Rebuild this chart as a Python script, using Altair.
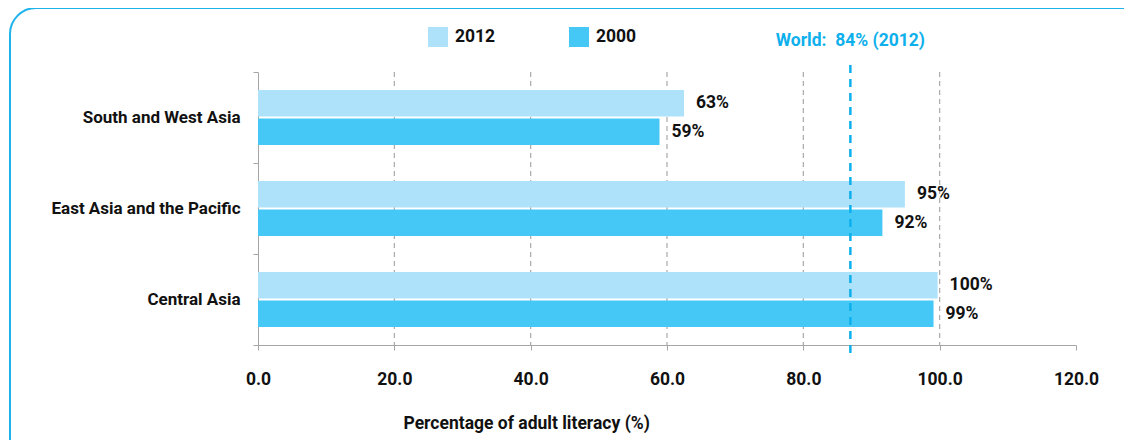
import altair as alt
import pandas as pd

# ---- data ----
regions = ["South and West Asia", "East Asia and the Pacific", "Central Asia"]
years = ["2012", "2000"]
vals_2012 = [62.5, 94.9, 99.7]
vals_2000 = [58.9, 91.6, 99.1]
labels_2012 = ["63%", "95%", "100%"]
labels_2000 = ["59%", "92%", "99%"]
x_ticks = [0, 20, 40, 60, 80, 100, 120]
grid_vals = [20, 40, 60, 80, 100]
world_val = [86.9]
world_label = ["World:\u00a0 84% (2012)"]
x_title = "Percentage of adult literacy (%)"

FONT = "Roboto, Liberation Sans, sans-serif"
FS = 17.5
LIGHT = "#AEE1FA"
DARK = "#45C8F5"
WORLD = "#0DB0EC"
W, H = 818, 273

rows = []
for r, v, l in zip(regions, vals_2012, labels_2012):
    rows.append({"region": r, "year": "2012", "value": v, "label": l})
for r, v, l in zip(regions, vals_2000, labels_2000):
    rows.append({"region": r, "year": "2000", "value": v, "label": l})
df = pd.DataFrame(rows)

y_enc = alt.Y(
    "region:N",
    sort=regions,
    scale=alt.Scale(paddingInner=0, paddingOuter=0),
    axis=alt.Axis(
        title=None, labelFont=FONT, labelFontSize=17, labelFontWeight="bold",
        labelColor="#111", labelPadding=13, labelLimit=0, tickSize=5, tickBand="extent",
        tickColor="#a6a6a6", domainColor="#a6a6a6", grid=False,
    ),
)
yoff_enc = alt.YOffset(
    "year:N", sort=years, scale=alt.Scale(paddingInner=0.07, paddingOuter=0.63)
)
x_scale = alt.Scale(domain=[0, 120], nice=False)

frame = alt.Chart(pd.DataFrame({"a": [1]})).mark_rect(
    fillOpacity=0, stroke="#1FB3EC", strokeWidth=2, cornerRadius=26
).encode(
    x=alt.value(-248), x2=alt.value(W + 80),
    y=alt.value(-64), y2=alt.value(H + 160),
)

grid = alt.Chart(pd.DataFrame({"g": grid_vals})).mark_rule(
    color="#a9a9a9", strokeDash=[5, 4], strokeWidth=1.2
).encode(x=alt.X("g:Q", scale=x_scale))

bars = alt.Chart(df).mark_bar().encode(
    x=alt.X(
        "value:Q", scale=x_scale,
        axis=alt.Axis(
            values=x_ticks, format=".1f", title=x_title, grid=False, labelFlush=False,
            labelFont=FONT, labelFontSize=FS, labelFontWeight="bold", labelColor="#111",
            labelPadding=20, tickSize=5, tickColor="#a6a6a6", domainColor="#a6a6a6",
            titleFont=FONT, titleFontSize=FS, titleFontWeight="bold", titleColor="#111",
            titleX=145, titleY=78, titleAlign="left", titleBaseline="middle",
        ),
    ),
    y=y_enc,
    yOffset=yoff_enc,
    color=alt.Color(
        "year:N", sort=years,
        scale=alt.Scale(domain=years, range=[LIGHT, DARK]),
        legend=alt.Legend(
            title=None, orient="none", legendX=170, legendY=-45, direction="horizontal",
            symbolType="square", symbolSize=400, symbolStrokeWidth=0,
            labelFont=FONT, labelFontSize=FS, labelFontWeight="bold", labelColor="#111",
            labelOffset=7, columnPadding=73,
        ),
    ),
)

labels = alt.Chart(df).mark_text(
    align="left", baseline="middle", dx=12, font=FONT, fontSize=FS,
    fontWeight="bold", color="#111",
).encode(
    x=alt.X("value:Q", scale=x_scale),
    y=y_enc,
    yOffset=yoff_enc,
    text="label:N",
)

world_rule = alt.Chart(pd.DataFrame({"w": world_val})).mark_rule(
    color=WORLD, strokeDash=[8, 6], strokeWidth=2.5
).encode(
    x=alt.X("w:Q", scale=x_scale),
    y=alt.value(-7), y2=alt.value(H + 13),
)

world_text = alt.Chart(pd.DataFrame({"w": world_val, "t": world_label})).mark_text(
    align="center", baseline="middle", font=FONT, fontSize=FS,
    fontWeight="bold", color=WORLD,
).encode(
    x=alt.X("w:Q", scale=x_scale),
    y=alt.value(-31),
    text="t:N",
)

chart = alt.layer(frame, grid, bars, labels, world_rule, world_text).properties(
    width=W, height=H,
    autosize=alt.AutoSizeParams(type="none"),
    padding={"left": 250, "top": 64, "right": 48, "bottom": 95},
    background="white",
).configure_view(stroke=None)

chart.save("out.html", embed_options={"renderer": "svg", "actions": False})
